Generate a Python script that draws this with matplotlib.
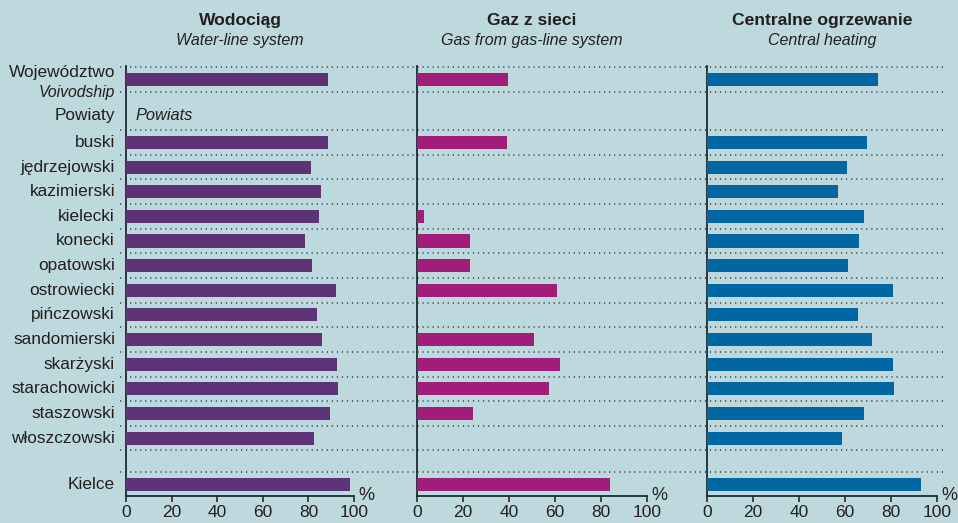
import matplotlib.pyplot as plt
import matplotlib.transforms as mtransforms

plt.rcParams['font.family'] = ['Liberation Sans', 'DejaVu Sans']

# data (percent of dwellings)
powiaty = ['buski', 'jędrzejowski', 'kazimierski', 'kielecki', 'konecki',
           'opatowski', 'ostrowiecki', 'pińczowski', 'sandomierski',
           'skarżyski', 'starachowicki', 'staszowski', 'włoszczowski']

woda_woj = 88.6
woda = [88.6, 81.1, 85.5, 84.6, 78.5, 81.6, 92.1, 83.8, 86.0, 92.5, 93.0, 89.5, 82.5]
woda_kielce = 98.2

gaz_woj = 39.5
gaz = [39.1, 0, 0, 2.9, 23.0, 23.0, 60.9, 0, 50.9, 62.2, 57.4, 24.3, 0]
gaz_kielce = 84.0

co_woj = 74.4
co = [69.6, 60.9, 57.0, 68.3, 66.1, 61.3, 80.9, 65.7, 71.8, 80.9, 81.4, 68.3, 58.7]
co_kielce = 93.2

titles = ['Wodociąg', 'Gaz z sieci', 'Centralne ogrzewanie']
subtitles = ['Water-line system', 'Gas from gas-line system', 'Central heating']
colors = ['#5e3276', '#a21c79', '#0067a3']
ticks = [0, 20, 40, 60, 80, 100]

bg = '#bed9dd'
dark = '#231f20'
spine_c = '#1c2b33'

# row layout (row units, top to bottom)
y_woj = -2.55
y_pow = -1.08
y_rows = list(range(len(powiaty)))
y_kielce = 13.88
ylim = (14.36, -3.1)
dotted_y = [-3.05, -2.05, -0.5] + [i + 0.5 for i in y_rows] + [13.37]
bar_h = 0.53

fig = plt.figure(figsize=(9.58, 5.23), dpi=100, facecolor=bg)

bottom = 26.7 / 523
height = 430.3 / 523

# dotted separators across all panels
axd = fig.add_axes([120 / 958, bottom, 825 / 958, height])
axd.set_xlim(0, 1)
axd.set_ylim(*ylim)
axd.axis('off')
for y in dotted_y:
    axd.axhline(y, color='#33444a', lw=1.1, ls=(0, (0.8, 2.5)))

lefts = [126 / 958, 417.3 / 958, 707.3 / 958]
widths = [228 / 958, 229.4 / 958, 229.4 / 958]
series = [(woda_woj, woda, woda_kielce), (gaz_woj, gaz, gaz_kielce), (co_woj, co, co_kielce)]

axes = []
for i in range(3):
    ax = fig.add_axes([lefts[i], bottom, widths[i], height])
    ax.set_facecolor('none')
    woj, vals, kie = series[i]
    ax.barh([y_woj] + y_rows + [y_kielce], [woj] + vals + [kie],
            height=bar_h, color=colors[i], zorder=3)
    ax.set_xlim(0, 100)
    ax.set_ylim(*ylim)
    for s in ['top', 'right']:
        ax.spines[s].set_visible(False)
    ax.spines['left'].set_color(spine_c)
    ax.spines['bottom'].set_color(spine_c)
    ax.spines['left'].set_linewidth(1.3)
    ax.spines['bottom'].set_linewidth(1.3)
    ax.set_xticks(ticks)
    ax.tick_params(axis='x', direction='out', length=4, width=1.2, color=spine_c,
                   labelsize=12.5, labelcolor=dark, pad=2.5)
    ax.set_yticks([])
    ax.text(1.055, 0.003, '%', transform=ax.transAxes, ha='center', va='center',
            fontsize=13, color=dark)
    ax.text(0.5, 1.1046, titles[i], transform=ax.transAxes, ha='center', va='center',
            fontsize=12.6, fontweight='bold', color=dark)
    ax.text(0.5, 1.0604, subtitles[i], transform=ax.transAxes, ha='center', va='center',
            fontsize=11.5, style='italic', color=dark)
    axes.append(ax)

# row labels left of the first panel
ax1 = axes[0]
tr = mtransforms.blended_transform_factory(ax1.transAxes, ax1.transData)
lx = -0.048
fs = 12.4
for y, name in zip(y_rows, powiaty):
    ax1.text(lx, y, name, transform=tr, ha='right', va='center', fontsize=fs, color=dark)
ax1.text(lx, y_kielce, 'Kielce', transform=tr, ha='right', va='center', fontsize=fs, color=dark)
ax1.text(lx, y_pow, 'Powiaty', transform=tr, ha='right', va='center', fontsize=fs, color=dark)
ax1.text(0.04, y_pow, 'Powiats', transform=tr, ha='left', va='center', fontsize=11.8,
         style='italic', color=dark)
ax1.text(lx, -2.85, 'Województwo', transform=tr, ha='right', va='center', fontsize=fs, color=dark)
ax1.text(lx, -2.02, 'Voivodship', transform=tr, ha='right', va='center', fontsize=11.3,
         style='italic', color=dark)

fig.savefig('out.png', dpi=100, facecolor=bg)
